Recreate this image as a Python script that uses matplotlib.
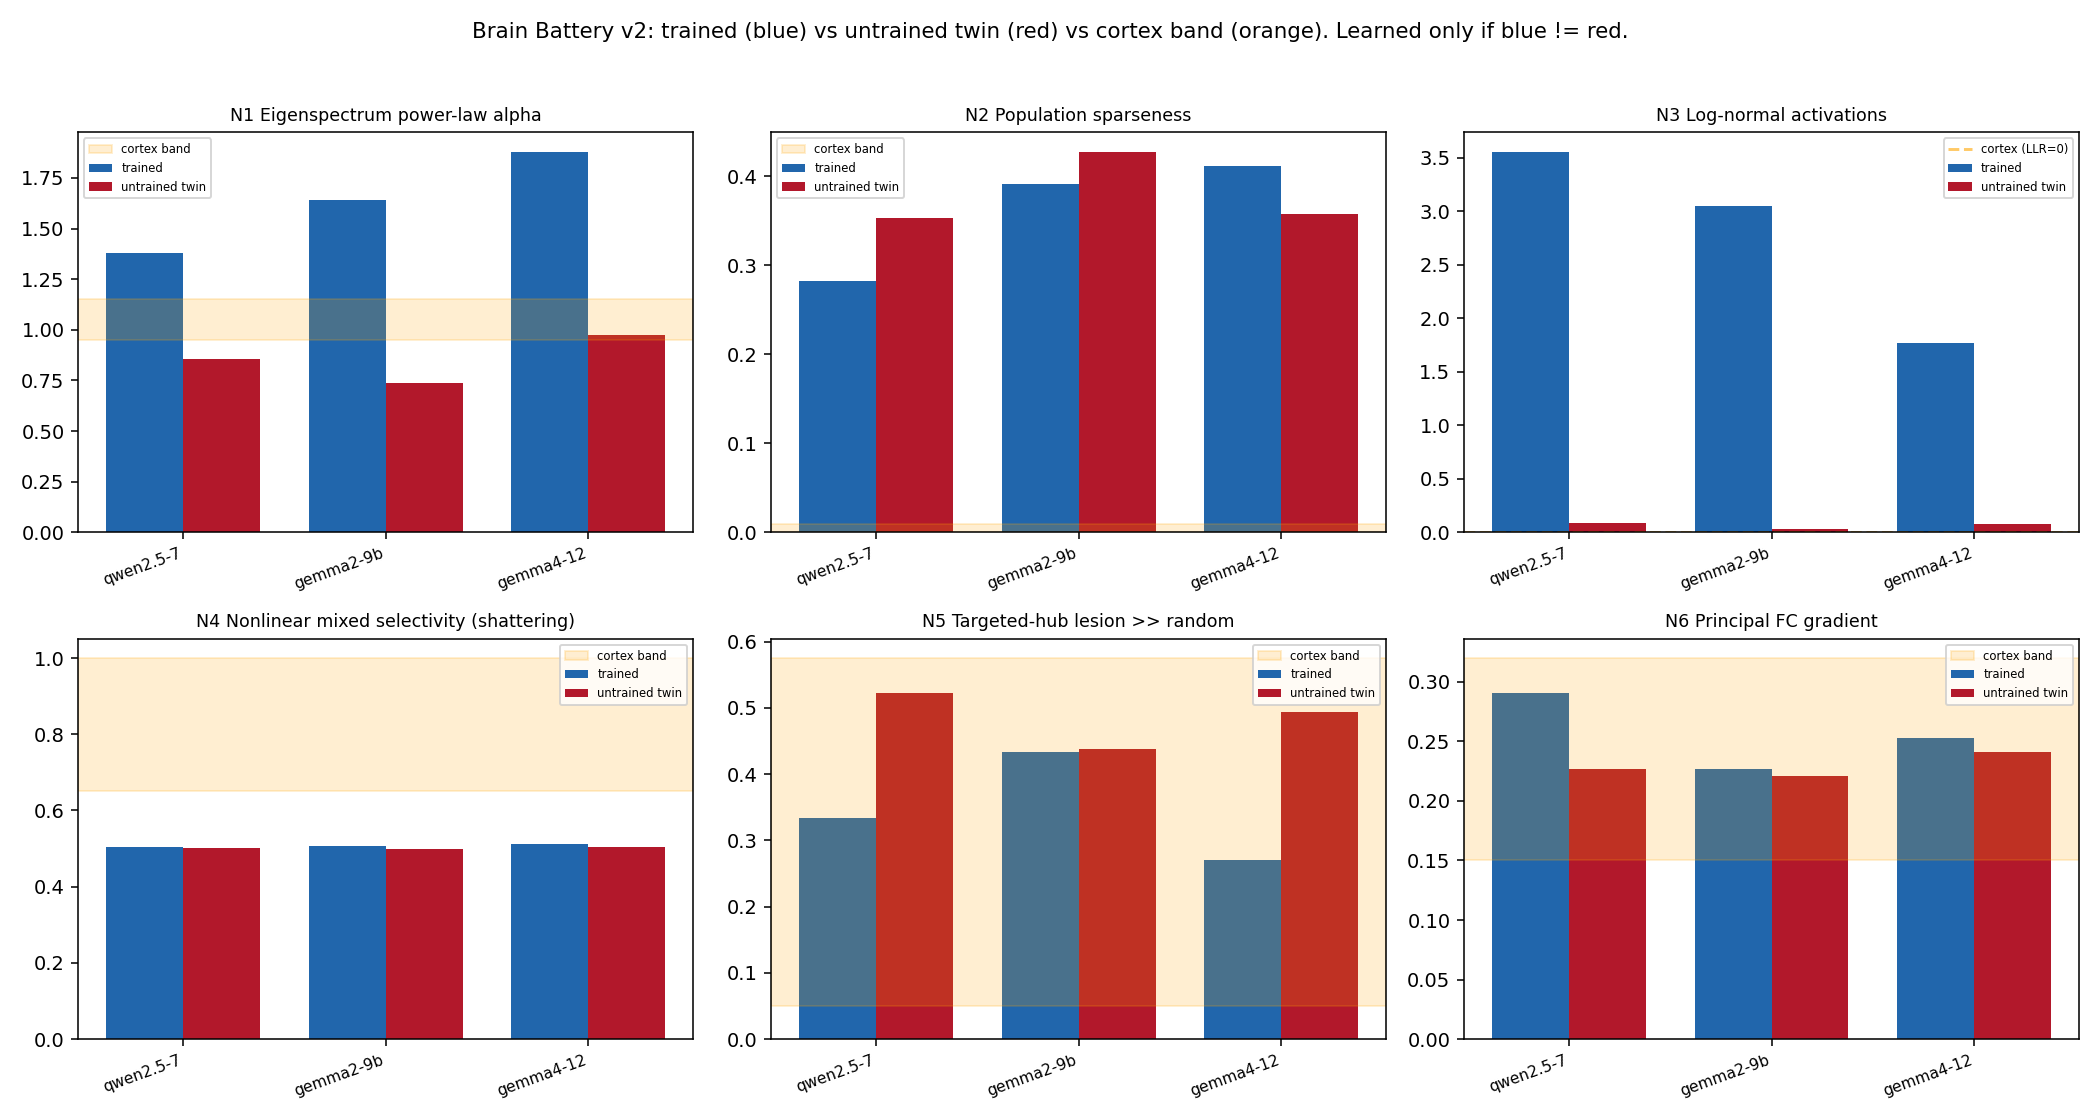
import numpy as np
import matplotlib
matplotlib.use("Agg")
import matplotlib.pyplot as plt
from matplotlib.ticker import MultipleLocator

models = ["qwen2.5-7", "gemma2-9b", "gemma4-12"]

titles = [
    "N1 Eigenspectrum power-law alpha",
    "N2 Population sparseness",
    "N3 Log-normal activations",
    "N4 Nonlinear mixed selectivity (shattering)",
    "N5 Targeted-hub lesion >> random",
    "N6 Principal FC gradient",
]

n1_trained = [1.38, 1.64, 1.88]
n1_untrained = [0.855, 0.74, 0.975]
n1_band = (0.95, 1.15)

n2_trained = [0.282, 0.391, 0.412]
n2_untrained = [0.353, 0.428, 0.358]
n2_band = (0.0, 0.01)

n3_trained = [3.56, 3.05, 1.77]
n3_untrained = [0.09, 0.035, 0.08]
n3_line = 0.0

n4_trained = [0.505, 0.508, 0.511]
n4_untrained = [0.502, 0.499, 0.505]
n4_band = (0.65, 1.0)

n5_trained = [0.333, 0.434, 0.271]
n5_untrained = [0.522, 0.438, 0.494]
n5_band = (0.05, 0.575)

n6_trained = [0.291, 0.227, 0.253]
n6_untrained = [0.227, 0.221, 0.241]
n6_band = (0.15, 0.32)

trained_all = [n1_trained, n2_trained, n3_trained, n4_trained, n5_trained, n6_trained]
untrained_all = [n1_untrained, n2_untrained, n3_untrained, n4_untrained, n5_untrained, n6_untrained]
bands = [n1_band, n2_band, None, n4_band, n5_band, n6_band]
legend_locs = ["upper left", "upper left", "upper right", "upper right", "upper right", "upper right"]

BLUE = "#2166ac"
RED = "#b2182b"
W = 0.38

fig, axes = plt.subplots(2, 3, figsize=(15, 8), dpi=140)
x = np.arange(len(models))
for i, ax in enumerate(axes.flat):
    ax.bar(x - W / 2, trained_all[i], W, color=BLUE, label="trained")
    ax.bar(x + W / 2, untrained_all[i], W, color=RED, label="untrained twin")
    if bands[i] is not None:
        lo, hi = bands[i]
        ax.axhspan(lo, hi, color="orange", alpha=0.18, label="cortex band")
    else:
        ax.axhline(n3_line, color="orange", alpha=0.6, ls="--", label="cortex (LLR=0)")
    ax.set_title(titles[i], fontsize=9)
    ax.set_xticks(x)
    ax.set_xticklabels(models, rotation=20, ha="right", fontsize=8)
    ax.legend(loc=legend_locs[i], fontsize=6)
    if i == 1:
        ax.yaxis.set_major_locator(MultipleLocator(0.1))
    if i == 3:
        ax.set_ylim(0, 1.05)

fig.suptitle("Brain Battery v2: trained (blue) vs untrained twin (red) vs cortex band (orange). Learned only if blue != red.", fontsize=11)
fig.tight_layout(rect=[0, 0, 1, 0.96])
fig.savefig("out.png", dpi=140)
